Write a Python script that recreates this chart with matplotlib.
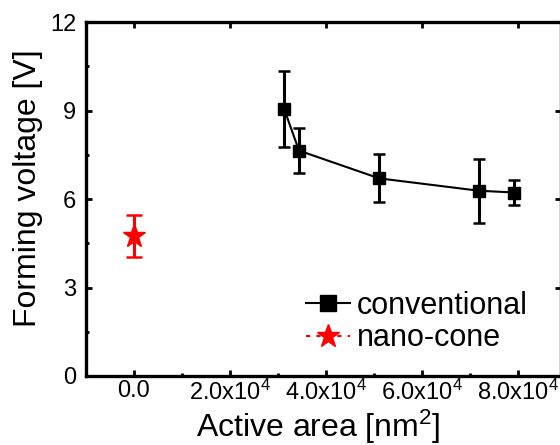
import matplotlib
matplotlib.use("Agg")
import matplotlib.pyplot as plt
from matplotlib.ticker import MultipleLocator, FixedLocator
from matplotlib.lines import Line2D

plt.rcParams['font.family'] = ['Liberation Sans', 'DejaVu Sans']
plt.rcParams['mathtext.fontset'] = 'custom'
plt.rcParams['mathtext.rm'] = 'Liberation Sans'
plt.rcParams['mathtext.it'] = 'Liberation Sans'

# Conventional cells: active area [nm^2], forming voltage [V] and its spread
conv_area = [3.13e4, 3.44e4, 5.11e4, 7.19e4, 7.93e4]
conv_vf = [9.05, 7.64, 6.70, 6.28, 6.22]
conv_err = [1.30, 0.77, 0.81, 1.08, 0.43]

# Nano-cone cell
cone_area = [0.0]
cone_vf = [4.75]
cone_err = [0.72]

x_tick_values = [0, 2e4, 4e4, 6e4, 8e4]
x_tick_labels = ['0.0', r'2.0x10$^4$', r'4.0x10$^4$', r'6.0x10$^4$', r'8.0x10$^4$']
y_tick_values = [0, 3, 6, 9, 12]

fig = plt.figure(figsize=(5.6, 4.45), dpi=100)
ax = fig.add_axes([86 / 560, 1 - 376 / 445, 475 / 560, 354 / 445])

ax.errorbar(conv_area, conv_vf, yerr=conv_err, color='black', marker='s',
            markersize=9, linewidth=1.5, elinewidth=2.2, capsize=4.6,
            capthick=1.8, label='conventional', zorder=3)
ax.errorbar(cone_area, cone_vf, yerr=cone_err, color='red', marker='*',
            markersize=17, linewidth=1.5, elinewidth=2.2, capsize=5.8,
            capthick=1.8, linestyle='none', label='nano-cone', zorder=3)

ax.set_xlim(-1e4, 8.9e4)
ax.set_ylim(0, 12)

ax.xaxis.set_major_locator(FixedLocator(x_tick_values))
ax.set_xticklabels(x_tick_labels)
ax.xaxis.set_minor_locator(MultipleLocator(1e4))
ax.set_yticks(y_tick_values)
ax.yaxis.set_minor_locator(MultipleLocator(1.5))

for s in ax.spines.values():
    s.set_linewidth(2.4)

ax.tick_params(which='both', direction='in', top=True, right=True, width=2.0)
ax.tick_params(axis='x', which='major', length=4, pad=3, labelsize=17)
ax.tick_params(axis='x', which='minor', length=2.5, top=False)
ax.tick_params(axis='y', which='major', length=4, pad=7, labelsize=17)
ax.tick_params(axis='y', which='minor', length=2.5, right=False)
ax.tick_params(axis='x', which='major', labeltop=False)

ax.set_xlabel(r'Active area [nm$^2$]', fontsize=23)
ax.set_ylabel('Forming voltage [V]', fontsize=23)
ax.xaxis.set_label_coords(0.49, -0.172)
ax.xaxis.label.set_verticalalignment('baseline')
ax.yaxis.set_label_coords(-0.09, 0.53)

handles = [
    Line2D([], [], color='black', marker='s', markersize=11, linewidth=1.5),
    Line2D([], [], color='red', marker='*', markersize=17, linewidth=1.5,
           linestyle=(0, (2, 3))),
]
ax.legend(handles, ['conventional', 'nano-cone'], loc='upper left',
          bbox_to_anchor=(0.463, 0.24), frameon=False, fontsize=22,
          borderpad=0, borderaxespad=0, handlelength=1.45, handletextpad=0.22,
          labelspacing=0.08)

fig.savefig('out.png', dpi=100)
